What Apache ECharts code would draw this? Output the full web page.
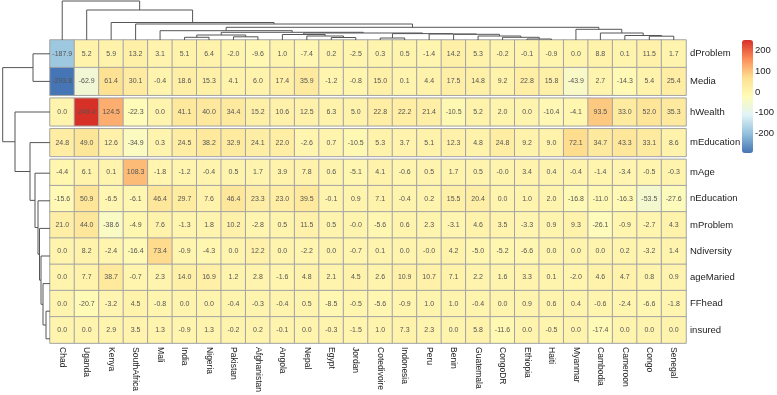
<!DOCTYPE html>
<html>
<head>
<meta charset="utf-8">
<script src="https://cdn.jsdelivr.net/npm/echarts@6/dist/echarts.min.js"></script>
<style>
html, body { margin: 0; padding: 0; background: #fff; }
#chart { width: 777px; height: 395px; }
</style>
</head>
<body>
<div id="chart"></div>
<script>
// columns, in dendrogram order
const countries = ['Chad', 'Uganda', 'Kenya', 'SouthAfrica', 'Mali', 'India', 'Nigeria', 'Pakistan',
  'Afghanistan', 'Angola', 'Nepal', 'Egypt', 'Jordan', 'Cotedivoire', 'Indonesia', 'Peru', 'Benin',
  'Guatemala', 'CongoDR', 'Ethiopia', 'Haiti', 'Myanmar', 'Cambodia', 'Cameroon', 'Congo', 'Senegal'];

// rows, split in the 4 clusters shown in the picture
const rowGroups = [
  ['dProblem', 'Media'],
  ['hWealth'],
  ['mEducation'],
  ['mAge', 'nEducation', 'mProblem', 'Ndiversity', 'ageMaried', 'FFhead', 'insured']
];

const dProblem   = [-187.9, 5.2, 5.9, 13.2, 3.1, 5.1, 6.4, -2.0, -9.6, 1.0, -7.4, 0.2, -2.5, 0.3, 0.5, -1.4, 14.2, 5.3, -0.2, -0.1, -0.9, 0.0, 8.8, 0.1, 11.5, 1.7];
const Media      = [-293.8, -62.9, 61.4, 30.1, -0.4, 18.6, 15.3, 4.1, 6.0, 17.4, 35.9, -1.2, -0.8, 15.0, 0.1, 4.4, 17.5, 14.8, 9.2, 22.8, 15.8, -43.9, 2.7, -14.3, 5.4, 25.4];
const hWealth    = [0.0, 249.4, 124.5, -22.3, 0.0, 41.1, 40.0, 34.4, 15.2, 10.6, 12.5, 6.3, 5.0, 22.8, 22.2, 21.4, -10.5, 5.2, 2.0, 0.0, -10.4, -4.1, 93.5, 33.0, 52.0, 35.3];
const mEducation = [24.8, 49.0, 12.6, -34.9, 0.3, 24.5, 38.2, 32.9, 24.1, 22.0, -2.6, 0.7, -10.5, 5.3, 3.7, 5.1, 12.3, 4.8, 24.8, 9.2, 9.0, 72.1, 34.7, 43.3, 33.1, 8.6];
const mAge       = [-4.4, 6.1, 0.1, 108.3, -1.8, -1.2, -0.4, 0.5, 1.7, 3.9, 7.8, 0.6, -5.1, 4.1, -0.6, 0.5, 1.7, 0.5, -0.0, 3.4, 0.4, -0.4, -1.4, -3.4, -0.5, -0.3];
const nEducation = [-15.6, 50.9, -6.5, -6.1, 46.4, 29.7, 7.6, 46.4, 23.3, 23.0, 39.5, -0.1, 0.9, 7.1, -0.4, 0.2, 15.5, 20.4, 0.0, 1.0, 2.0, -16.8, -11.0, -16.3, -53.5, -27.6];
const mProblem   = [21.0, 44.0, -38.6, -4.9, 7.6, -1.3, 1.8, 10.2, -2.8, 0.5, 11.5, 0.5, -0.0, -5.6, 0.6, 2.3, -3.1, 4.6, 3.5, -3.3, 0.9, 9.3, -26.1, -0.9, -2.7, 4.3];
const Ndiversity = [0.0, 8.2, -2.4, -16.4, 73.4, -0.9, -4.3, 0.0, 12.2, 0.0, -2.2, 0.0, -0.7, 0.1, 0.0, -0.0, 4.2, -5.0, -5.2, -6.6, 0.0, 0.0, 0.0, 0.2, -3.2, 1.4];
const ageMaried  = [0.0, 7.7, 38.7, -0.7, 2.3, 14.0, 16.9, 1.2, 2.8, -1.6, 4.8, 2.1, 4.5, 2.6, 10.9, 10.7, 7.1, 2.2, 1.6, 3.3, 0.1, -2.0, 4.6, 4.7, 0.8, 0.9];
const FFhead     = [0.0, -20.7, -3.2, 4.5, -0.8, 0.0, 0.0, -0.4, -0.3, -0.4, 0.5, -8.5, -0.5, -5.6, -0.9, 1.0, 1.0, -0.4, 0.0, 0.9, 0.6, 0.4, -0.6, -2.4, -6.6, -1.8];
const insured    = [0.0, 0.0, 2.9, 3.5, 1.3, -0.9, 1.3, -0.2, 0.2, -0.1, 0.0, -0.3, -1.5, 1.0, 7.3, 2.3, 0.0, 5.8, -11.6, 0.0, -0.5, 0.0, -17.4, 0.0, 0.0, 0.0];

const rowValues = { dProblem, Media, hWealth, mEducation, mAge, nEducation, mProblem, Ndiversity, ageMaried, FFhead, insured };

// dendrograms: [left, right, mergeHeight]
const colTree = ['Chad', ['Uganda', ['Kenya', ['SouthAfrica', [
  ['Mali', [
    [['India', 'Nigeria', 2.7], ['Pakistan', 'Afghanistan', 3.2], 5],
    [
      ['Angola', ['Nepal', ['Egypt', 'Jordan', 2.5], 4], 5.5],
      [['Cotedivoire', 'Indonesia', 2], ['Peru', ['Benin', ['Guatemala', ['CongoDR', ['Ethiopia', 'Haiti', 1], 2.7], 4], 5.7], 6.0], 6.4],
      7],
    7.7], 9.3],
  ['Myanmar', ['Cambodia', ['Cameroon', ['Congo', 'Senegal', 3.8], 4.5], 7], 10.7],
  12.7], 16], 17.5], 30], 39];

const rowTree = [['dProblem', 'Media', 17],
  ['hWealth', ['mEducation', ['mAge', ['nEducation', ['mProblem', ['Ndiversity',
    ['ageMaried', ['FFhead', 'insured', 4], 7], 9], 10.5], 12], 15], 20], 35], 47.3];

const legendTicks = [-200, -100, 0, 100, 200];
const colorLow = -293.8, colorHigh = 249.4;
const palette = ['#4575B4', '#91BFDB', '#E0F3F8', '#FFFBB8', '#FEE090', '#FC8D59', '#D73027'];

// layout
const hmLeft = 50, hmWidth = 636, hmTop = 40, rowH = 27.6, gap = 3;
const FONT = 'Liberation Sans, Arial, sans-serif';

const grids = [], xAxes = [], yAxes = [], series = [];
let curTop = hmTop;
const heatIdx = [];
rowGroups.forEach((names, g) => {
  grids.push({ left: hmLeft, width: hmWidth, top: curTop, height: names.length * rowH });
  curTop += names.length * rowH + gap;
  const last = g === rowGroups.length - 1;
  xAxes.push({
    type: 'category', gridIndex: g, data: countries,
    axisLine: { show: false }, axisTick: { show: false }, splitLine: { show: false },
    axisLabel: { show: last, rotate: -90, margin: 4, fontSize: 8.5, color: '#222', fontFamily: FONT, interval: 0 }
  });
  yAxes.push({
    type: 'category', gridIndex: g, data: names, inverse: true, position: 'right',
    axisLine: { show: false }, axisTick: { show: false }, splitLine: { show: false },
    axisLabel: { margin: 4, fontSize: 9.5, color: '#222', fontFamily: FONT }
  });
  const data = [];
  names.forEach((n, r) => rowValues[n].forEach((v, c) => data.push([c, r, v])));
  heatIdx.push(series.length);
  series.push({
    type: 'heatmap', xAxisIndex: g, yAxisIndex: g, data: data,
    itemStyle: { borderColor: '#a3a3a3', borderWidth: 1 },
    label: {
      show: true, fontSize: 7, color: '#555', fontFamily: FONT,
      formatter: p => Object.is(p.value[2], -0) ? '-0.0' : p.value[2].toFixed(1)
    },
    emphasis: { disabled: true }
  });
});
const hmHeight = curTop - gap - hmTop;

// dendrogram segments from tree
function walk(node, pos, segs) {
  if (typeof node === 'string') return { p: pos(node), h: 0 };
  const a = walk(node[0], pos, segs), b = walk(node[1], pos, segs);
  segs.push([a.p, a.h, b.p, b.h, node[2]]);
  return { p: (a.p + b.p) / 2, h: node[2] };
}
const colSegs = [];
walk(colTree, n => countries.indexOf(n) + 0.5, colSegs);

const rowNames = rowGroups.flat();
const gapU = gap / rowH;
const rowPos = n => {
  const g = rowGroups.findIndex(ns => ns.includes(n));
  return rowNames.indexOf(n) + 0.5 + g * gapU;
};
const rowSegs = [];
walk(rowTree, rowPos, rowSegs);

const dendroStyle = { stroke: '#555', lineWidth: 1, fill: null };

// column dendrogram grid
const gc = grids.length;
grids.push({ left: hmLeft, width: hmWidth, top: 0, height: hmTop });
xAxes.push({ type: 'value', gridIndex: gc, min: 0, max: countries.length, show: false });
yAxes.push({ type: 'value', gridIndex: gc, min: 0, max: 40, show: false });
series.push({
  type: 'custom', xAxisIndex: gc, yAxisIndex: gc, data: colSegs, clip: false, silent: true,
  encode: { x: [0, 2], y: [1, 3, 4] },
  renderItem: (params, api) => ({
    type: 'polyline',
    shape: { points: [
      api.coord([api.value(0), api.value(1)]), api.coord([api.value(0), api.value(4)]),
      api.coord([api.value(2), api.value(4)]), api.coord([api.value(2), api.value(3)])
    ] },
    style: dendroStyle
  })
});

// row dendrogram grid
const gr = grids.length;
grids.push({ left: 0, width: hmLeft, top: hmTop, height: hmHeight });
xAxes.push({ type: 'value', gridIndex: gr, min: 0, max: 50, inverse: true, show: false });
yAxes.push({ type: 'value', gridIndex: gr, min: 0, max: rowNames.length + (rowGroups.length - 1) * gapU, inverse: true, show: false });
series.push({
  type: 'custom', xAxisIndex: gr, yAxisIndex: gr, data: rowSegs, clip: false, silent: true,
  encode: { x: [1, 3, 4], y: [0, 2] },
  renderItem: (params, api) => ({
    type: 'polyline',
    shape: { points: [
      api.coord([api.value(1), api.value(0)]), api.coord([api.value(4), api.value(0)]),
      api.coord([api.value(4), api.value(2)]), api.coord([api.value(3), api.value(2)])
    ] },
    style: dendroStyle
  })
});

// legend scale axis next to the colour bar
const legLeft = 742, legTop = 40, legW = 11, legH = 113;
const gl = grids.length;
grids.push({ left: legLeft, width: legW, top: legTop, height: legH });
xAxes.push({ type: 'value', gridIndex: gl, show: false });
yAxes.push({
  type: 'value', gridIndex: gl, min: colorLow, max: colorHigh, position: 'right',
  axisLine: { show: false }, axisTick: { show: false }, splitLine: { show: false },
  axisLabel: { customValues: legendTicks, margin: 5, fontSize: 9.5, color: '#222', fontFamily: FONT }
});

const chart = echarts.init(document.getElementById('chart'));
chart.setOption({
  animation: false,
  backgroundColor: '#fff',
  grid: grids,
  xAxis: xAxes,
  yAxis: yAxes,
  visualMap: {
    type: 'continuous', min: colorLow, max: colorHigh, seriesIndex: heatIdx, dimension: 2,
    calculable: false, hoverLink: false, padding: 0,
    left: legLeft, top: legTop, itemWidth: legW, itemHeight: legH,
    inRange: { color: palette }, textStyle: { fontSize: 0 }
  },
  series: series
});
</script>
</body>
</html>
